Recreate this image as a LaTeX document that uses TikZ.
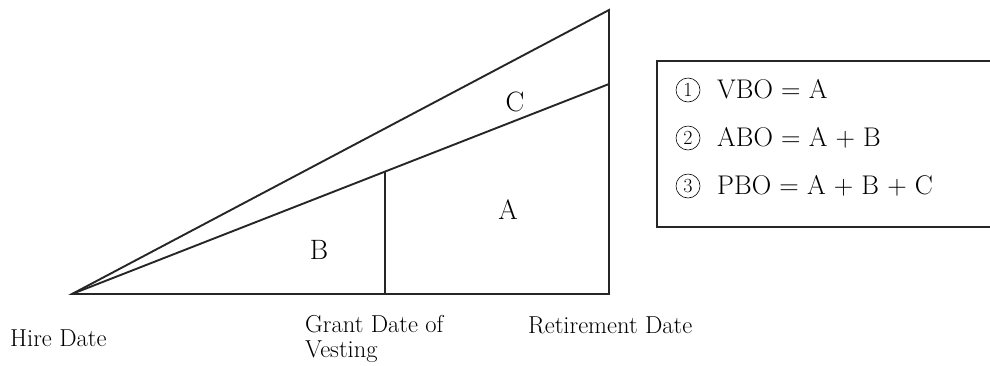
\documentclass[tikz,border=0pt]{standalone}
\usetikzlibrary{calc}
\begin{document}
\begin{tikzpicture}[x=1pt,y=-1pt,
  edge/.style={line width=1.9pt, line join=miter, black!85},
  lbl/.style={font=\fontsize{24.5}{25}\selectfont, anchor=base west, inner sep=0pt, align=left},
  area/.style={font=\fontsize{28}{32}\selectfont, inner sep=0pt},
  eq/.style={font=\fontsize{27}{32}\selectfont, anchor=base west, inner sep=0pt},
  num/.style={circle, draw, line width=0.6pt, minimum size=24pt, inner sep=0pt, font=\fontsize{20}{22}\selectfont}
]
\useasboundingbox (0,0) rectangle (990,365);
% triangle points
\coordinate (hire) at (72,294);
\coordinate (grant) at (385,294);
\coordinate (ret) at (609,294);
\coordinate (top) at (609,10);
\coordinate (mid) at (609,84);
\coordinate (gv) at ($(hire)!0.58287!(mid)$);
\draw[edge] (hire) -- (top) -- (ret) -- cycle;
\draw[edge] (hire) -- (mid);
\draw[edge] (gv) -- (grant);
% area labels
\node[area] (lc) at (515,102) {C};
\node[area] (la) at (508,210) {A};
\node[area] (lb) at (319,250) {B};
% axis labels
\node[lbl] (hd) at (10,346) {Hire Date};
\node[lbl] (gd) at (305,357) {Grant Date of\\Vesting};
\node[lbl] (rd) at (528,333) {Retirement Date};
% legend box (right side runs off the picture)
\coordinate (b1) at (995,61);
\coordinate (b2) at (657,61);
\coordinate (b3) at (657,227);
\coordinate (b4) at (995,227);
\draw[line width=1.9pt, black!85] (b1) -- (b2) -- (b3) -- (b4);
\node[num] (n1) at (688,90) {1};
\node[num] (n2) at (688,138) {2};
\node[num] (n3) at (688,186) {3};
\node[eq] (e1) at (717,98) {VBO = A};
\node[eq] (e2) at (717,146) {ABO = A + B};
\node[eq] (e3) at (717,194) {PBO = A + B + C};
\end{tikzpicture}
\end{document}
